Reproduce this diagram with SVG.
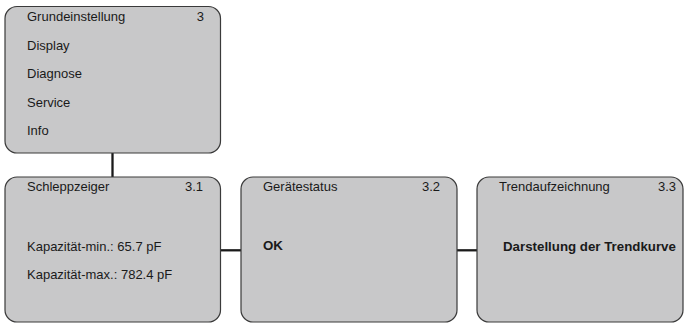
<svg xmlns="http://www.w3.org/2000/svg" width="684" height="323" viewBox="0 0 684 323">
<style>
.box{fill:#c8c8c9;stroke:#3a3a3a;stroke-width:1.2}
.t{font-family:"Liberation Sans",Arial,sans-serif;font-size:13px;fill:#1a1a1a}
.b{font-weight:bold;font-size:13.3px}
.e{text-anchor:end}
.c{stroke:#1a1a1a;stroke-width:2.3;fill:none}
</style>
<g id="connectors">
<line class="c" x1="112.5" y1="153" x2="112.5" y2="177"/>
<line class="c" x1="220.5" y1="250.3" x2="241" y2="250.3"/>
<line class="c" x1="457" y1="250.3" x2="477" y2="250.3"/>
</g>
<g id="node-3">
<rect class="box" x="5" y="6.5" width="215.5" height="146.5" rx="12"/>
<text class="t" x="27" y="21">Grundeinstellung</text>
<text class="t e" x="204" y="21">3</text>
<text class="t" x="27" y="50">Display</text>
<text class="t" x="27" y="78">Diagnose</text>
<text class="t" x="27" y="107">Service</text>
<text class="t" x="27" y="135">Info</text>
</g>
<g id="node-3-1">
<rect class="box" x="5" y="177" width="215.5" height="145" rx="12"/>
<text class="t" x="27" y="191">Schleppzeiger</text>
<text class="t e" x="203" y="191">3.1</text>
<text class="t" x="27" y="251">Kapazität-min.: 65.7 pF</text>
<text class="t" x="27" y="279">Kapazität-max.: 782.4 pF</text>
</g>
<g id="node-3-2">
<rect class="box" x="241" y="177" width="216" height="145" rx="12"/>
<text class="t" x="263" y="191">Gerätestatus</text>
<text class="t e" x="440" y="191">3.2</text>
<text class="t b" x="263" y="250">OK</text>
</g>
<g id="node-3-3">
<rect class="box" x="477" y="177" width="206" height="145" rx="12"/>
<text class="t" x="499" y="191">Trendaufzeichnung</text>
<text class="t e" x="676" y="191">3.3</text>
<text class="t b" x="503" y="251">Darstellung der Trendkurve</text>
</g>
</svg>
